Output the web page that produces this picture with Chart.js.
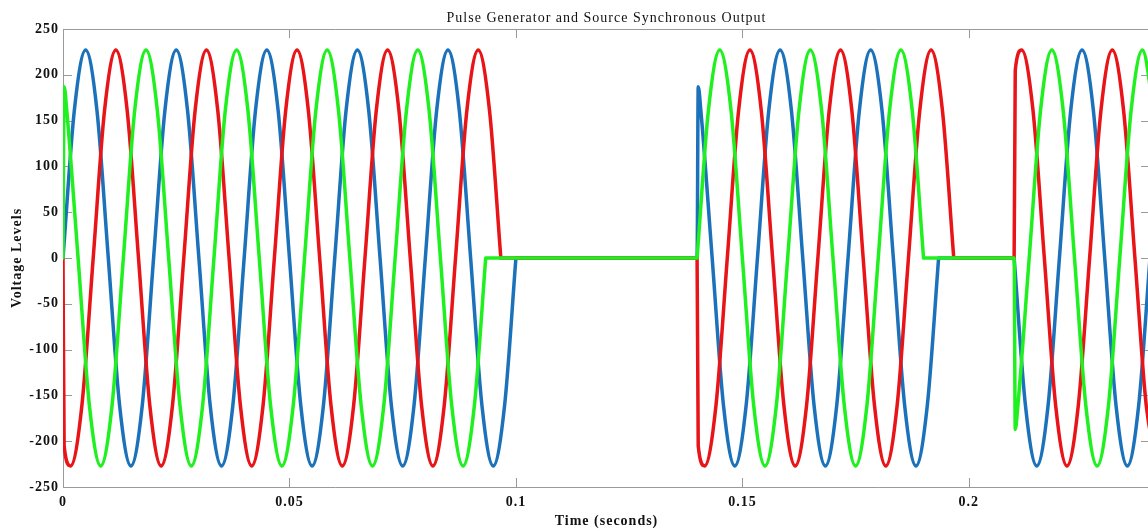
<!DOCTYPE html>
<html>
<head>
<meta charset="utf-8">
<title>Pulse Generator and Source Synchronous Output</title>
<script src="https://cdn.jsdelivr.net/npm/chart.js@4.4.1/dist/chart.umd.min.js"></script>
<style>
    html, body { margin: 0; padding: 0; background: #fff; overflow: hidden; }
    #wrap { position: relative; width: 1160px; height: 530px; }
</style>
</head>
<body>
<div id="wrap"><canvas id="pulseChart"></canvas></div>
<script>
// Values: [time (s), voltage]; null = where the trace breaks
const bluePoints = [
    [0, 0], [0.0025, 161], [0.005, 227], [0.0075, 161], [0.01, 0], [0.0125, -161], [0.015, -227], [0.0175, -161],
    [0.02, 0], [0.0225, 161], [0.025, 227], [0.0275, 161], [0.03, 0], [0.0325, -161], [0.035, -227], [0.0375, -161],
    [0.04, 0], [0.0425, 161], [0.045, 227], [0.0475, 161], [0.05, 0], [0.0525, -161], [0.055, -227], [0.0575, -161],
    [0.06, 0], [0.0625, 161], [0.065, 227], [0.0675, 161], [0.07, 0], [0.0725, -161], [0.075, -227], [0.0775, -161],
    [0.08, 0], [0.0825, 161], [0.085, 227], [0.0875, 161], [0.09, 0], [0.0925, -161], [0.095, -227], [0.0975, -161],
    [0.1, 0], [0.1, null],
    [0.1, 0], [0.14, 0], [0.14025, 187], [0.14083, 161], [0.14333, 0], [0.14583, -161], [0.14833, -227], [0.15083, -161],
    [0.15333, 0], [0.15583, 161], [0.15833, 227], [0.16083, 161], [0.16333, 0], [0.16583, -161], [0.16833, -227], [0.17083, -161],
    [0.17333, 0], [0.17583, 161], [0.17833, 227], [0.18083, 161], [0.18333, 0], [0.18583, -161], [0.18833, -227], [0.19083, -161],
    [0.19333, 0], [0.19333, null],
    [0.19333, 0], [0.21, 0], [0.21, null],
    [0.21, 0], [0.2125, -161], [0.215, -227], [0.2175, -161], [0.22, 0], [0.2225, 161], [0.225, 227], [0.2275, 161],
    [0.23, 0], [0.2325, -161], [0.235, -227], [0.2375, -161], [0.24, 0]
];

const redPoints = [
    [0, 0], [0.00025, -205], [0.00167, -227], [0.00417, -161], [0.00667, 0], [0.00917, 161], [0.01167, 227], [0.01417, 161],
    [0.01667, 0], [0.01917, -161], [0.02167, -227], [0.02417, -161], [0.02667, 0], [0.02917, 161], [0.03167, 227], [0.03417, 161],
    [0.03667, 0], [0.03917, -161], [0.04167, -227], [0.04417, -161], [0.04667, 0], [0.04917, 161], [0.05167, 227], [0.05417, 161],
    [0.05667, 0], [0.05917, -161], [0.06167, -227], [0.06417, -161], [0.06667, 0], [0.06917, 161], [0.07167, 227], [0.07417, 161],
    [0.07667, 0], [0.07917, -161], [0.08167, -227], [0.08417, -161], [0.08667, 0], [0.08917, 161], [0.09167, 227], [0.09417, 161],
    [0.09667, 0], [0.09667, null],
    [0.09667, 0], [0.14, 0], [0.14025, -205], [0.14167, -227], [0.14417, -161], [0.14667, 0], [0.14917, 161], [0.15167, 227], [0.15417, 161],
    [0.15667, 0], [0.15917, -161], [0.16167, -227], [0.16417, -161], [0.16667, 0], [0.16917, 161], [0.17167, 227], [0.17417, 161],
    [0.17667, 0], [0.17917, -161], [0.18167, -227], [0.18417, -161], [0.18667, 0], [0.18917, 161], [0.19167, 227], [0.19417, 161],
    [0.19667, 0], [0.19667, null],
    [0.19667, 0], [0.21, 0], [0.21025, 205], [0.21167, 227], [0.21417, 161], [0.21667, 0], [0.21917, -161], [0.22167, -227], [0.22417, -161],
    [0.22667, 0], [0.22917, 161], [0.23167, 227], [0.23417, 161], [0.23667, 0], [0.23917, -161], [0.24167, -227]
];

const greenPoints = [
    [0, 0], [0.00025, 187], [0.00083, 161], [0.00333, 0], [0.00583, -161], [0.00833, -227], [0.01083, -161],
    [0.01333, 0], [0.01583, 161], [0.01833, 227], [0.02083, 161], [0.02333, 0], [0.02583, -161], [0.02833, -227], [0.03083, -161],
    [0.03333, 0], [0.03583, 161], [0.03833, 227], [0.04083, 161], [0.04333, 0], [0.04583, -161], [0.04833, -227], [0.05083, -161],
    [0.05333, 0], [0.05583, 161], [0.05833, 227], [0.06083, 161], [0.06333, 0], [0.06583, -161], [0.06833, -227], [0.07083, -161],
    [0.07333, 0], [0.07583, 161], [0.07833, 227], [0.08083, 161], [0.08333, 0], [0.08583, -161], [0.08833, -227], [0.09083, -161],
    [0.09333, 0], [0.09333, null],
    [0.09333, 0], [0.14, 0], [0.14, null],
    [0.14, 0], [0.1425, 161], [0.145, 227], [0.1475, 161], [0.15, 0], [0.1525, -161], [0.155, -227], [0.1575, -161],
    [0.16, 0], [0.1625, 161], [0.165, 227], [0.1675, 161], [0.17, 0], [0.1725, -161], [0.175, -227], [0.1775, -161],
    [0.18, 0], [0.1825, 161], [0.185, 227], [0.1875, 161], [0.19, 0], [0.19, null],
    [0.19, 0], [0.21, 0], [0.21025, -187], [0.21083, -161], [0.21333, 0], [0.21583, 161], [0.21833, 227], [0.22083, 161],
    [0.22333, 0], [0.22583, -161], [0.22833, -227], [0.23083, -161], [0.23333, 0], [0.23583, 161], [0.23833, 227], [0.24083, 161]
];

const xTickValues = [0, 0.05, 0.1, 0.15, 0.2];
const xTickLabels = ['0', '0.05', '0.1', '0.15', '0.2'];
const yTickValues = [-250, -200, -150, -100, -50, 0, 50, 100, 150, 200, 250];
const yTickLabels = ['-250', '-200', '-150', '-100', '-50', '0', '50', '100', '150', '200', '250'];

const serif = '"Liberation Serif", "Times New Roman", serif';
const frameColor = '#9a9a9a';
const tickLen = 9;

function makeSet(label, points, color, order) {
    return {
        label: label,
        data: points.map(p => ({ x: p[0], y: p[1] })),
        borderColor: color,
        backgroundColor: color,
        borderWidth: 3.5,
        borderCapStyle: 'round',
        borderJoinStyle: 'round',
        cubicInterpolationMode: 'monotone',
        pointRadius: 0,
        spanGaps: false,
        order: order
    };
}

// box around the axes with inward tick marks on all four sides
const frameTicks = {
    id: 'frameTicks',
    beforeDraw(chart) {
        chart.ctx.letterSpacing = '1px';
    },
    beforeDatasetsDraw(chart) {
        const { ctx, chartArea: a, scales } = chart;
        ctx.save();
        ctx.strokeStyle = frameColor;
        ctx.lineWidth = 1;
        ctx.beginPath();
        ctx.rect(a.left + 0.5, a.top + 0.5, a.right - a.left, a.bottom - a.top);
        xTickValues.forEach(v => {
            const px = Math.round(scales.x.getPixelForValue(v)) + 0.5;
            ctx.moveTo(px, a.bottom);
            ctx.lineTo(px, a.bottom - tickLen);
            ctx.moveTo(px, a.top);
            ctx.lineTo(px, a.top + tickLen);
        });
        yTickValues.forEach(v => {
            const py = Math.round(scales.y.getPixelForValue(v)) + 0.5;
            ctx.moveTo(a.left, py);
            ctx.lineTo(a.left + tickLen, py);
            ctx.moveTo(a.right, py);
            ctx.lineTo(a.right - tickLen, py);
        });
        ctx.stroke();
        ctx.restore();
    }
};

const ctx = document.getElementById('pulseChart').getContext('2d');
new Chart(ctx, {
    type: 'line',
    data: {
        datasets: [
            makeSet('Phase C', greenPoints, 'rgb(32, 240, 32)', 0),
            makeSet('Phase B', redPoints, 'rgb(232, 20, 24)', 1),
            makeSet('Phase A', bluePoints, 'rgb(28, 114, 186)', 2)
        ]
    },
    options: {
        responsive: true,
        maintainAspectRatio: false,
        animation: false,
        layout: { padding: { left: 0, right: 10, top: 0, bottom: 0 } },
        plugins: {
            legend: { display: false },
            tooltip: { enabled: false },
            title: {
                display: true,
                fullSize: false,
                text: 'Pulse Generator and Source Synchronous Output',
                color: '#111',
                font: { family: serif, size: 14, weight: 'normal' },
                padding: { top: 9.6, bottom: 2.6 }
            }
        },
        scales: {
            x: {
                type: 'linear',
                min: 0,
                max: 0.24,
                grid: { display: false, drawTicks: false },
                border: { display: false },
                afterBuildTicks: s => { s.ticks = xTickValues.map(v => ({ value: v })); },
                afterFit: s => { s.height = 43; },
                ticks: {
                    autoSkip: false,
                    maxRotation: 0,
                    padding: 7,
                    color: '#111',
                    font: { family: serif, size: 14, weight: 'bold' },
                    callback: (v, i) => xTickLabels[i]
                },
                title: {
                    display: true,
                    text: 'Time (seconds)',
                    color: '#111',
                    font: { family: serif, size: 14, weight: 'bold' },
                    padding: { top: 0, bottom: 0 }
                }
            },
            y: {
                min: -250,
                max: 250,
                grid: { display: false, drawTicks: false },
                border: { display: false },
                afterBuildTicks: s => { s.ticks = yTickValues.map(v => ({ value: v })); },
                afterFit: s => { s.width = 63; },
                ticks: {
                    autoSkip: false,
                    padding: 4,
                    color: '#111',
                    font: { family: serif, size: 14, weight: 'bold' },
                    callback: (v, i) => yTickLabels[i]
                },
                title: {
                    display: true,
                    text: 'Voltage Levels',
                    color: '#111',
                    font: { family: serif, size: 14, weight: 'bold' },
                    padding: { top: 9, bottom: 0 }
                }
            }
        }
    },
    plugins: [frameTicks]
});
</script>
</body>
</html>
